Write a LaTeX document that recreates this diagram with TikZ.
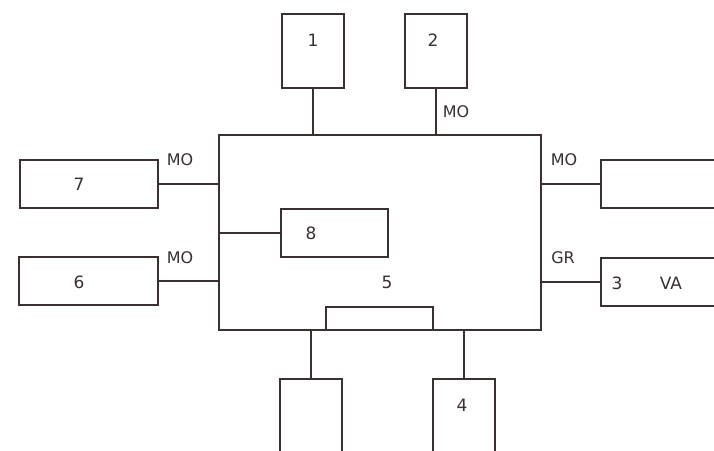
\documentclass[tikz,border=0pt]{standalone}
\usepackage{fontspec}
\setmainfont{DejaVu Sans}
\usetikzlibrary{positioning,calc}
\definecolor{inkline}{HTML}{3A3030}

\begin{document}
\begin{tikzpicture}[
  x=1pt,y=-1pt,
  font=\fontsize{17}{20}\selectfont,
  blk/.style={rectangle,draw=inkline,line width=2pt,inner sep=0pt},
  wire/.style={draw=inkline,line width=2pt},
  num/.style={text=inkline,inner sep=0pt},
  sig/.style={text=inkline,inner sep=0pt,font=\fontsize{16}{19}\selectfont},
]
\clip (0,0) rectangle (714,450);
\fill[white] (0,0) rectangle (714,450);

% Central unit
\node[blk,minimum width=322pt,minimum height=195pt] (main) at (380,232.5) {};
\node[num] (t5) at (387,282) {5};
\node[blk,minimum width=107pt,minimum height=23pt] (inner) at (379.5,318.5) {};
\node[blk,minimum width=107pt,minimum height=48pt] (b8) at (334.5,233) {};
\node[num] (t8) at (311,233) {8};
\draw[wire] (b8.west) -- (b8.west -| main.west);

% Top
\node[blk,minimum width=62pt,minimum height=74pt] (b1) at (313,51) {};
\node[num] (t1) at (313,40) {1};
\node[blk,minimum width=62pt,minimum height=74pt] (b2) at (436,51) {};
\node[num] (t2) at (433,40) {2};
\draw[wire] (b1.south) -- (b1.south |- main.north);
\draw[wire] (b2.south) -- (b2.south |- main.north);
\node[sig] (m2) at (456,112) {MO};

% Left
\node[blk,minimum width=138pt,minimum height=48pt] (b7) at (89,184) {};
\node[num] (t7) at (79,184) {7};
\node[blk,minimum width=139pt,minimum height=48pt] (b6) at (88.5,281) {};
\node[num] (t6) at (79,282) {6};
\draw[wire] (b7.east) -- (b7.east -| main.west);
\draw[wire] (b6.east) -- (b6.east -| main.west);
\node[sig] (m7) at (180,160) {MO};
\node[sig] (m6) at (180,258) {MO};

% Right
\node[blk,minimum width=159pt,minimum height=48pt] (bR) at (680.5,184) {};
\node[blk,minimum width=159pt,minimum height=48pt] (b3) at (680.5,282) {};
\node[num] (t3) at (617,283) {3};
\node[num] (va) at (671,283) {VA};
\draw[wire] (main.east |- bR.west) -- (bR.west);
\draw[wire] (main.east |- b3.west) -- (b3.west);
\node[sig] (mR) at (564,160) {MO};
\node[sig] (gr) at (563,258) {GR};

% Bottom
\node[blk,minimum width=62pt,minimum height=91pt] (bL) at (311,424.5) {};
\node[blk,minimum width=62pt,minimum height=91pt] (b4) at (464,424.5) {};
\node[num] (t4) at (462,405) {4};
\draw[wire] (main.south -| bL.north) -- (bL.north);
\draw[wire] (main.south -| b4.north) -- (b4.north);
\end{tikzpicture}
\end{document}
